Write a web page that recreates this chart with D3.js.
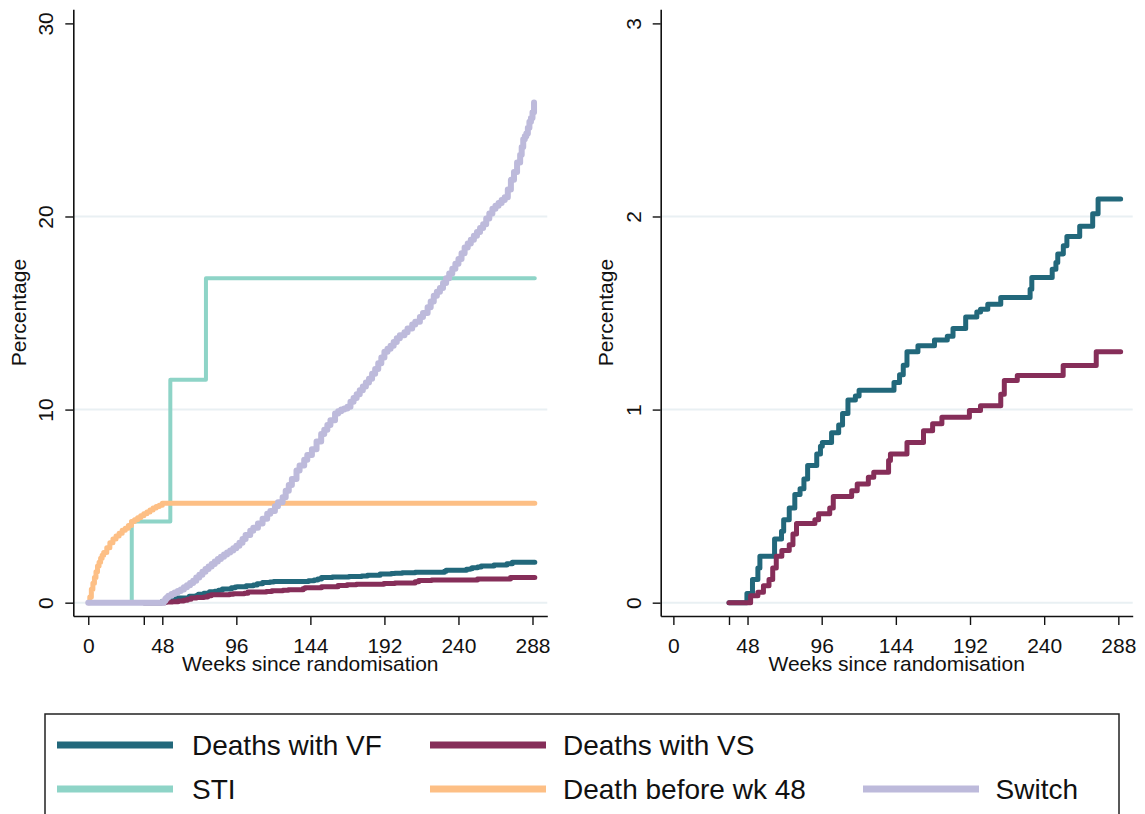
<!DOCTYPE html>
<html>
<head>
<meta charset="utf-8">
<script src="https://cdn.jsdelivr.net/npm/d3@7"></script>
<style>
  html, body { margin: 0; padding: 0; background: #fff; }
  svg { display: block; font-family: "Liberation Sans", Arial, sans-serif; }
</style>
</head>
<body>
<svg id="chart" width="1145" height="814"></svg>
<script>
// Cumulative percentages by week since randomisation (step functions)
const vfWeeks = [36, 47.6, 51.2, 54.7, 56, 65.5, 70, 71.4, 75, 78.6, 82, 84.5, 86.9, 92.8, 95.2, 96.4, 102.4, 107, 109.5, 113, 117.8, 120.2, 142.8, 146.4, 148.8, 151.2, 158.3, 169, 177.3, 181, 189.2, 196.4, 198.8, 203.5, 211.9, 230.9, 232, 245.2, 247.6, 248.8, 252.4, 254.7, 263, 271.4, 274.9, 289.5];
const vfPct   = [0, 0.048, 0.12, 0.18, 0.24, 0.33, 0.37, 0.43, 0.49, 0.56, 0.59, 0.64, 0.71, 0.77, 0.81, 0.83, 0.88, 0.92, 0.98, 1.05, 1.07, 1.10, 1.14, 1.18, 1.23, 1.30, 1.33, 1.36, 1.38, 1.42, 1.48, 1.505, 1.52, 1.545, 1.58, 1.623, 1.684, 1.727, 1.762, 1.806, 1.849, 1.896, 1.950, 2.014, 2.090, 2.090];

const vsWeeks = [36, 50, 54.7, 58.3, 61.9, 64.3, 66.6, 70.2, 75, 77.4, 79.7, 91.6, 94, 101.2, 103.5, 115.4, 119, 126.2, 129.7, 139.3, 140.5, 151.2, 161.9, 167.8, 173.8, 191.6, 198.8, 211.9, 214.2, 222.6, 252.3, 273.7, 289.5];
const vsPct   = [0, 0.036, 0.054, 0.088, 0.12, 0.18, 0.24, 0.27, 0.30, 0.356, 0.41, 0.43, 0.46, 0.49, 0.55, 0.58, 0.615, 0.65, 0.675, 0.736, 0.77, 0.83, 0.89, 0.926, 0.96, 0.995, 1.02, 1.08, 1.15, 1.176, 1.228, 1.30, 1.30];

const stiWeeks = [0, 28.2, 53.2, 76.3, 289.5];
const stiPct   = [0, 4.2, 11.55, 16.8, 16.8];

const deathWeeks = [0, 1, 2, 3, 4, 5, 6, 7, 8, 9, 10, 12, 14, 16, 18, 20, 22, 24, 26, 28, 30, 32, 34, 36, 38, 40, 42, 44, 46, 48, 289.5];
const deathPct   = [0, 0.3, 0.7, 1.0, 1.3, 1.6, 1.9, 2.1, 2.3, 2.45, 2.6, 2.85, 3.1, 3.3, 3.45, 3.6, 3.75, 3.85, 4.0, 4.2, 4.3, 4.4, 4.5, 4.6, 4.7, 4.8, 4.9, 4.98, 5.05, 5.15, 5.15];

const switchWeeks = [0, 48, 49, 50, 51, 52, 54, 56, 58, 60, 62, 64, 66, 68, 70, 72, 74, 76, 78, 80, 82, 84, 86, 88, 90, 92, 94, 96, 98, 100, 102, 105, 107, 110, 113, 116, 118, 121, 123, 126, 128, 130, 132, 135, 137, 140, 142, 145, 148, 151, 153, 155, 157, 160, 162, 164, 166, 168, 170, 172, 174, 176, 178, 180, 182, 184, 186, 188, 190, 192, 194, 196, 198, 200, 202, 205, 207, 210, 212, 215, 217, 220, 222, 224, 226, 228, 230, 232, 234, 236, 238, 240, 242, 244, 246, 248, 250, 252, 254, 256, 258, 260, 262, 264, 266, 268, 270, 272, 274, 276, 278, 280, 281, 282, 283, 284, 285, 286, 287, 288, 289];
const switchPct   = [0, 0, 0.1, 0.2, 0.28, 0.36, 0.45, 0.53, 0.6, 0.68, 0.8, 0.9, 1.02, 1.14, 1.3, 1.45, 1.6, 1.74, 1.87, 2.0, 2.13, 2.26, 2.38, 2.5, 2.6, 2.7, 2.82, 2.95, 3.1, 3.3, 3.5, 3.73, 3.88, 4.1, 4.35, 4.6, 4.75, 5.0, 5.2, 5.46, 5.8, 6.1, 6.4, 6.84, 7.1, 7.4, 7.65, 7.95, 8.35, 8.74, 8.95, 9.2, 9.45, 9.8, 9.92, 10.0, 10.05, 10.15, 10.4, 10.6, 10.8, 11.0, 11.2, 11.4, 11.6, 11.85, 12.1, 12.4, 12.7, 13.0, 13.15, 13.3, 13.5, 13.7, 13.85, 14.0, 14.2, 14.4, 14.55, 14.8, 15.0, 15.3, 15.6, 15.9, 16.1, 16.3, 16.55, 16.8, 17.05, 17.3, 17.55, 17.8, 18.1, 18.4, 18.6, 18.8, 19.0, 19.2, 19.4, 19.6, 19.9, 20.15, 20.4, 20.55, 20.7, 20.85, 21.0, 21.4, 21.9, 22.3, 22.8, 23.2, 23.6, 24.0, 24.15, 24.3, 24.6, 24.9, 25.1, 25.4, 25.9];

const xTicks = [0, 36, 48, 96, 144, 192, 240, 288];
const xTickLabels = ["0", "", "48", "96", "144", "192", "240", "288"];
const yTicksLeft = [0, 10, 20, 30];
const yTicksRight = [0, 1, 2, 3];

const seriesNames = ["Deaths with VF", "Deaths with VS", "STI", "Death before wk 48", "Switch"];
const seriesColors = ["#22687b", "#862e59", "#8ed4c7", "#fdbf85", "#bdbadb"];

const xTitle = "Weeks since randomisation";
const yTitle = "Percentage";

const zip = (ws, ps) => ws.map((w, i) => [w, ps[i]]);
const allSeries = [
  { name: seriesNames[0], color: seriesColors[0], data: zip(vfWeeks, vfPct), width: 5 },
  { name: seriesNames[1], color: seriesColors[1], data: zip(vsWeeks, vsPct), width: 5 },
  { name: seriesNames[2], color: seriesColors[2], data: zip(stiWeeks, stiPct), width: 4 },
  { name: seriesNames[3], color: seriesColors[3], data: zip(deathWeeks, deathPct), width: 5 },
  { name: seriesNames[4], color: seriesColors[4], data: zip(switchWeeks, switchPct), width: 6 }
];

const svg = d3.select("#chart");
const FONT = 21;

const panels = [
  { xRange: [73.3, 547.3], xDomain: [-9.7, 297.6], yDomain: [-0.69, 30.73], yTicks: yTicksLeft, series: allSeries },
  { xRange: [660.7, 1132.7], xDomain: [-8.2, 297.3], yDomain: [-0.069, 3.073], yTicks: yTicksRight, series: allSeries.slice(0, 2) }
];
const yRange = [616, 9.3];

panels.forEach(p => {
  const x = d3.scaleLinear().domain(p.xDomain).range(p.xRange);
  const y = d3.scaleLinear().domain(p.yDomain).range(yRange);
  const g = svg.append("g");

  // horizontal grid lines
  g.append("g").selectAll("line")
    .data(p.yTicks.filter(t => t < p.yTicks[p.yTicks.length - 1]))
    .join("line")
    .attr("x1", p.xRange[0]).attr("x2", p.xRange[1])
    .attr("y1", d => y(d)).attr("y2", d => y(d))
    .attr("stroke", "#e9f0f3").attr("stroke-width", 2);

  // curves
  const line = d3.line().x(d => x(d[0])).y(d => y(d[1])).curve(d3.curveStepAfter);
  g.append("g").selectAll("path")
    .data(p.series)
    .join("path")
    .attr("d", s => line(s.data))
    .attr("fill", "none")
    .attr("stroke", s => s.color)
    .attr("stroke-width", s => s.width)
    .attr("stroke-linejoin", "round")
    .attr("stroke-linecap", "round");

  // y axis
  const yAxis = g.append("g")
    .attr("transform", `translate(${p.xRange[0]},0)`)
    .call(d3.axisLeft(y).tickValues(p.yTicks).tickSize(8).tickSizeOuter(0).tickFormat(d3.format("d")));
  yAxis.select(".domain").attr("stroke", "#111").attr("stroke-width", 1.6);
  yAxis.selectAll(".tick line").attr("stroke", "#111").attr("stroke-width", 1.4);
  yAxis.selectAll(".tick text")
    .attr("x", null).attr("dy", null)
    .attr("transform", "translate(-20,0) rotate(-90)")
    .attr("text-anchor", "middle")
    .attr("fill", "#111")
    .style("font-size", FONT + "px")
    .style("font-family", "Liberation Sans, Arial, sans-serif");

  // x axis
  const xAxis = g.append("g")
    .attr("transform", `translate(0,${yRange[0]})`)
    .call(d3.axisBottom(x).tickValues(xTicks).tickSize(9).tickSizeOuter(0)
      .tickFormat((d, i) => xTickLabels[i]));
  xAxis.select(".domain").attr("stroke", "#111").attr("stroke-width", 1.6);
  xAxis.selectAll(".tick line").attr("stroke", "#111").attr("stroke-width", 1.4);
  xAxis.selectAll(".tick text")
    .attr("y", 37).attr("dy", null)
    .attr("fill", "#111")
    .style("font-size", FONT + "px")
    .style("font-family", "Liberation Sans, Arial, sans-serif");

  // axis titles
  g.append("text")
    .attr("x", (p.xRange[0] + p.xRange[1]) / 2)
    .attr("y", 671)
    .attr("text-anchor", "middle")
    .attr("fill", "#111")
    .style("font-size", FONT + "px")
    .text(xTitle);
  g.append("text")
    .attr("transform", `translate(${p.xRange[0] - 47.5},${(yRange[0] + yRange[1]) / 2}) rotate(-90)`)
    .attr("text-anchor", "middle")
    .attr("fill", "#111")
    .style("font-size", FONT + "px")
    .text(yTitle);
});

// legend
const legend = svg.append("g");
legend.append("rect")
  .attr("x", 45).attr("y", 714).attr("width", 1074).attr("height", 130)
  .attr("fill", "#fff").attr("stroke", "#222").attr("stroke-width", 1.5);

const legendPos = [
  { sx: 57, tx: 192, y: 745, anchor: "start" },
  { sx: 430, tx: 563, y: 745, anchor: "start" },
  { sx: 57, tx: 192, y: 789, anchor: "start" },
  { sx: 430, tx: 563, y: 789, anchor: "start" },
  { sx: 863, tx: 1078, y: 789, anchor: "end" }
];
const items = legend.selectAll("g.item")
  .data(allSeries)
  .join("g").attr("class", "item");
items.append("line")
  .attr("x1", (d, i) => legendPos[i].sx).attr("x2", (d, i) => legendPos[i].sx + 116)
  .attr("y1", (d, i) => legendPos[i].y).attr("y2", (d, i) => legendPos[i].y)
  .attr("stroke", d => d.color).attr("stroke-width", 7);
items.append("text")
  .attr("x", (d, i) => legendPos[i].tx)
  .attr("y", (d, i) => legendPos[i].y + 10)
  .attr("text-anchor", (d, i) => legendPos[i].anchor)
  .attr("fill", "#111")
  .style("font-size", "28px")
  .text(d => d.name);
</script>
</body>
</html>
